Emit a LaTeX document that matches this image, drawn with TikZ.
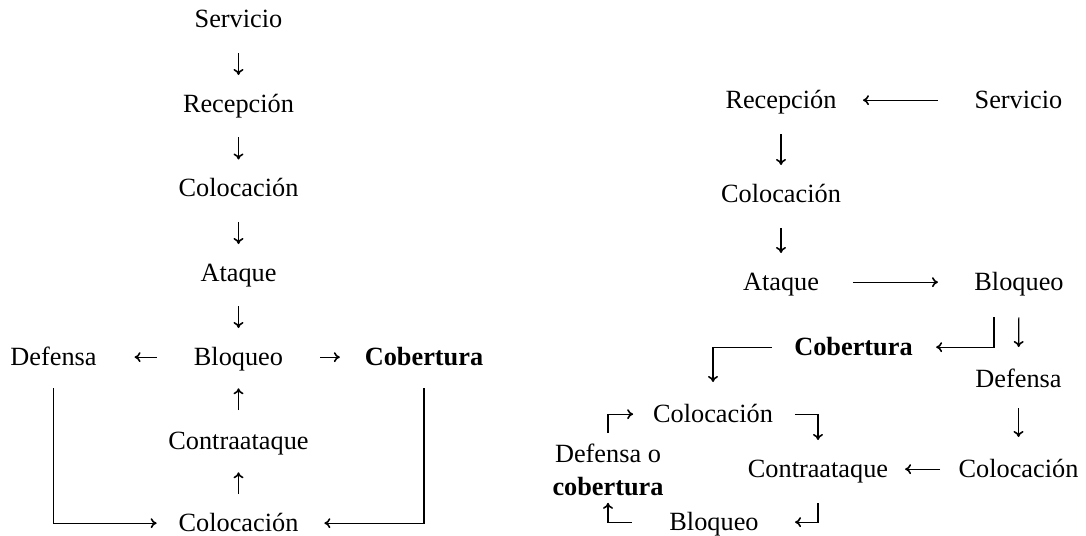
\documentclass[tikz,border=0pt]{standalone}
\usepackage{fontspec}
\setmainfont{Liberation Serif}
\usetikzlibrary{arrows.meta}
\begin{document}
\begin{tikzpicture}[x=1pt,y=-1pt,
  lbl/.style={font=\fontsize{26.3}{33}\selectfont, inner sep=0pt, outer sep=0pt,
    text height=21pt, text depth=5.3pt, anchor=base},
  twoline/.style={font=\fontsize{26.3}{33}\selectfont, inner sep=0pt, outer sep=0pt,
    align=center, anchor=north},
  flow/.style={line width=1.2pt,
    -{Computer Modern Rightarrow[length=6pt,width=10pt,line width=1.6pt]}},
]
\useasboundingbox (0,0) rectangle (1086,535);

% ---- left chain ----
\node[lbl] (lS)   at (238.5,28)  {Servicio};
\node[lbl] (lR)   at (238.5,112) {Recepción};
\node[lbl] (lC1)  at (238.5,196.5) {Colocación};
\node[lbl] (lA)   at (238.5,281) {Ataque};
\node[lbl] (lB)   at (238.5,365) {Bloqueo};
\node[lbl] (lD)   at (53.5,365)  {Defensa};
\node[lbl] (lCob) at (424,365)   {\textbf{Cobertura}};
\node[lbl] (lCt)  at (238.5,449) {Contraataque};
\node[lbl] (lC2)  at (238.5,531) {Colocación};

\draw[flow, shorten <=20pt, shorten >=16pt] (lS.south)  -- (lR.north);
\draw[flow, shorten <=20pt, shorten >=16pt] (lR.south)  -- (lC1.north);
\draw[flow, shorten <=20pt, shorten >=16pt] (lC1.south) -- (lA.north);
\draw[flow, shorten <=20pt, shorten >=16pt] (lA.south)  -- (lB.north);
\draw[flow, shorten <=37pt, shorten >=38pt] (lB.west) -- (lD.east);
\draw[flow, shorten <=37pt, shorten >=25pt] (lB.east) -- (lCob.west);
\draw[flow, shorten <=18pt, shorten >=18pt] (lCt.north) -- (lB.south);
\draw[flow, shorten <=16pt, shorten >=18pt] (lC2.north) -- (lCt.south);
\draw[flow, shorten <=18pt, shorten >=22pt] (lD.south) |- (lC2.west);
\draw[flow, shorten <=18pt, shorten >=26pt] (lCob.south) |- (lC2.east);

% ---- right chain ----
\node[lbl] (rR)   at (781,108)    {Recepción};
\node[lbl] (rS)   at (1018.5,108) {Servicio};
\node[lbl] (rC1)  at (781,202)    {Colocación};
\node[lbl] (rA)   at (781,290)    {Ataque};
\node[lbl] (rB1)  at (1019,290)   {Bloqueo};
\node[lbl] (rCob) at (853.5,355)  {\textbf{Cobertura}};
\node[lbl] (rD)   at (1018.5,387) {Defensa};
\node[lbl] (rC2)  at (713,422)    {Colocación};
\node[lbl] (rCt)  at (818,477)    {Contraataque};
\node[lbl] (rC3)  at (1018.5,477) {Colocación};
\node[lbl] (rB2)  at (714,530)    {Bloqueo};
\node[twoline] (rDC) at (608,444) {Defensa o\\\textbf{cobertura}};

\draw[flow, shorten <=37pt, shorten >=26.5pt] (rS.west) -- (rR.east);
\draw[flow, shorten <=21pt, shorten >=16pt] (rR.south) -- (rC1.north);
\draw[flow, shorten <=21pt, shorten >=16pt] (rC1.south) -- (rA.north);
\draw[flow, shorten <=34pt, shorten >=36.5pt] (rA.east) -- (rB1.west);
\draw[flow, shorten <=22pt, shorten >=23.5pt] ([xshift=-25pt]rB1.south) |- (rCob.east);
\draw[flow, shorten <=22pt, shorten >=19pt] (rB1.south) -- (rD.north);
\draw[flow, shorten <=16pt, shorten >=19pt] (rD.south) -- (rC3.north);
\draw[flow, shorten <=18.5pt, shorten >=17pt] (rC3.west) -- (rCt.east);
\draw[flow, shorten <=22.5pt, shorten >=19pt] (rCob.west) -| (rC2.north);
\draw[flow, shorten <=22pt, shorten >=16pt] (rC2.east) -| (rCt.north);
\draw[flow, shorten <=20.7pt, shorten >=36.5pt] (rCt.south) |- (rB2.east);
\draw[flow, shorten <=37.5pt, shorten >=7pt] (rB2.west) -| (rDC.south);
\draw[flow, shorten <=11pt, shorten >=20pt] (rDC.north) |- (rC2.west);
\end{tikzpicture}
\end{document}
